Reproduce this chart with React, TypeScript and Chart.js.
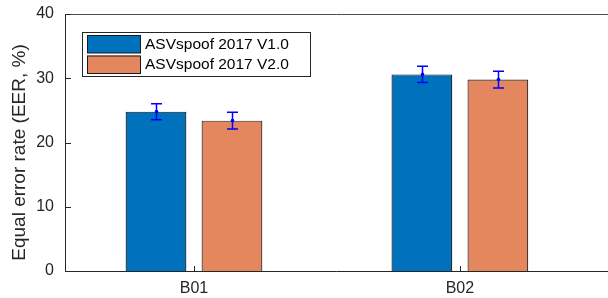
import React, { useEffect, useRef } from "react";
import { Chart, registerables } from "chart.js";

Chart.register(...registerables);

const categories = ["B01", "B02"];
const seriesLabels = ["ASVspoof 2017 V1.0", "ASVspoof 2017 V2.0"];
const v1Values = [24.8, 30.6];
const v2Values = [23.4, 29.8];
const v1Errors = [1.25, 1.25];
const v2Errors = [1.3, 1.3];
const yTicks = [0, 10, 20, 30, 40];
const yTitle = "Equal error rate (EER, %)";

const FONT = "'Liberation Sans', Arial, Helvetica, sans-serif";
const TEXT = "#262626";

const frame = {
  id: "frame",
  afterDraw(chart: any) {
    const { ctx, chartArea } = chart;
    const xs = chart.scales.x;
    const ys = chart.scales.y;
    const L = chartArea.left, R = chartArea.right, T = chartArea.top, B = chartArea.bottom;
    ctx.save();
    ctx.strokeStyle = TEXT;
    ctx.lineWidth = 1;
    ctx.beginPath();
    ctx.moveTo(L + 0.5, T);
    ctx.lineTo(L + 0.5, B + 0.5);
    ctx.lineTo(R, B + 0.5);
    ctx.stroke();
    ctx.strokeStyle = "#4d4d4d";
    ctx.beginPath();
    ctx.moveTo(L, T + 0.5);
    ctx.lineTo(R, T + 0.5);
    ctx.stroke();
    ctx.strokeStyle = TEXT;
    // inward ticks
    ctx.beginPath();
    yTicks.forEach((t) => {
      const y = Math.round(ys.getPixelForValue(t)) + 0.5;
      ctx.moveTo(L, y);
      ctx.lineTo(L + 6, y);
    });
    categories.forEach((_, i) => {
      const x = Math.round(xs.getPixelForValue(i + 1)) + 0.5;
      ctx.moveTo(x, B);
      ctx.lineTo(x, B - 5);
    });
    ctx.stroke();
    // y title
    ctx.fillStyle = TEXT;
    ctx.font = `19px ${FONT}`;
    ctx.textAlign = "center";
    ctx.textBaseline = "middle";
    ctx.translate(20, 152.5);
    ctx.rotate(-Math.PI / 2);
    ctx.fillText(yTitle, 0, 0);
    ctx.restore();

    // legend
    ctx.save();
    const lx = 82, ly = 32, lw = 228, lh = 44;
    ctx.fillStyle = "#ffffff";
    ctx.fillRect(lx, ly, lw, lh);
    ctx.strokeStyle = TEXT;
    ctx.lineWidth = 1;
    ctx.strokeRect(lx + 0.5, ly + 0.5, lw, lh);
    chart.data.datasets.forEach((ds: any, i: number) => {
      const sy = 35 + i * 20.5;
      ctx.fillStyle = ds.backgroundColor;
      ctx.fillRect(87, sy, 53, 18);
      ctx.strokeStyle = "#1a1a1a";
      ctx.strokeRect(87.5, sy + 0.5, 53, 17.5);
      ctx.fillStyle = "#000000";
      ctx.font = `15.5px ${FONT}`;
      ctx.textAlign = "left";
      ctx.textBaseline = "middle";
      ctx.fillText(ds.label, 145, sy + 9.5);
    });
    ctx.restore();
  },
};

const errorBars = {
  id: "errorBars",
  afterDatasetsDraw(chart: any) {
    const { ctx } = chart;
    const ys = chart.scales.y;
    const errs = [v1Errors, v2Errors];
    ctx.save();
    ctx.strokeStyle = "#0000ff";
    ctx.fillStyle = "#0000ff";
    ctx.lineWidth = 1.5;
    chart.data.datasets.forEach((ds: any, di: number) => {
      const meta = chart.getDatasetMeta(di);
      meta.data.forEach((el: any, i: number) => {
        const v = ds.data[i].y;
        const e = errs[di][i];
        const x = Math.round(el.x) + 0.5;
        const yt = ys.getPixelForValue(v + e);
        const yb = ys.getPixelForValue(v - e);
        const yc = ys.getPixelForValue(v);
        ctx.beginPath();
        ctx.moveTo(x, yt);
        ctx.lineTo(x, yb);
        ctx.moveTo(x - 5.5, yt);
        ctx.lineTo(x + 5.5, yt);
        ctx.moveTo(x - 5.5, yb);
        ctx.lineTo(x + 5.5, yb);
        ctx.stroke();
        ctx.beginPath();
        ctx.arc(x, yc, 1.8, 0, Math.PI * 2);
        ctx.fill();
      });
    });
    ctx.restore();
  },
};

export default function App() {
  const ref = useRef<HTMLCanvasElement>(null);
  useEffect(() => {
    const canvas = ref.current!;
    const chart = new Chart(canvas, {
      type: "bar",
      data: {
        datasets: [
          {
            label: seriesLabels[0],
            data: v1Values.map((y, i) => ({ x: i + 1, y })),
            backgroundColor: "#0072BD",
            borderColor: "#141414",
            borderWidth: 1.2,
          },
          {
            label: seriesLabels[1],
            data: v2Values.map((y, i) => ({ x: i + 1, y })),
            backgroundColor: "#E4875E",
            borderColor: "#2a2a2a",
            borderWidth: 1.2,
          },
        ],
      },
      options: {
        animation: false,
        responsive: false,
        maintainAspectRatio: false,
        events: [],
        layout: { padding: { top: 14, right: 0, left: 0, bottom: 0 } },
        datasets: {
          bar: { categoryPercentage: 2 / 3.5, barPercentage: 0.8, borderSkipped: "start" },
        },
        plugins: { legend: { display: false }, tooltip: { enabled: false } },
        scales: {
          x: {
            type: "linear",
            offset: false,
            min: 0.515,
            max: 2.557,
            grid: { display: false, drawTicks: false, offset: false },
            border: { display: false },
            afterBuildTicks: (s: any) => {
              s.ticks = categories.map((_, i) => ({ value: i + 1 }));
            },
            afterFit: (s: any) => {
              s.height = 27;
              s.paddingLeft = 0;
              s.paddingRight = 0;
            },
            ticks: {
              padding: 8,
              color: TEXT,
              font: { family: FONT, size: 16 },
              maxRotation: 0,
              autoSkip: false,
              callback: (v: any) => categories[Math.round(v) - 1] ?? "",
            },
          },
          y: {
            type: "linear",
            min: 0,
            max: 40,
            grid: { display: false, drawTicks: false },
            border: { display: false },
            afterBuildTicks: (s: any) => {
              s.ticks = yTicks.map((v) => ({ value: v }));
            },
            afterFit: (s: any) => {
              s.width = 65;
              s.paddingTop = 0;
              s.paddingBottom = 0;
            },
            ticks: {
              padding: 11,
              color: TEXT,
              font: { family: FONT, size: 16 },
            },
          },
        },
      },
      plugins: [errorBars, frame],
    } as any);
    return () => chart.destroy();
  }, []);
  return (
    <div style={{ position: "absolute", left: 0, top: 0, width: 608, height: 298, background: "#fff" }}>
      <canvas ref={ref} width={608} height={298} style={{ display: "block" }} />
    </div>
  );
}
